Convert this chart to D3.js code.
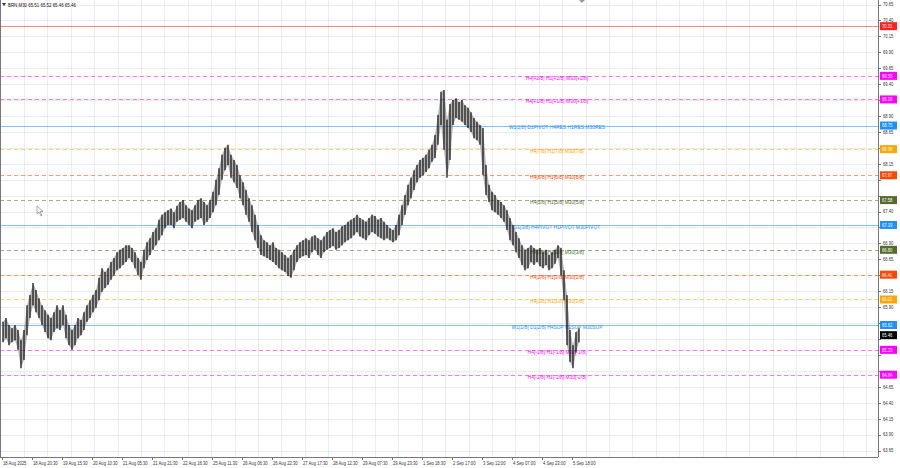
<!DOCTYPE html>
<html><head><meta charset="utf-8">
<script src="https://cdn.jsdelivr.net/npm/d3@7"></script>
<style>body{margin:0;background:#fff}svg{display:block}text{font-family:"Liberation Sans",Arial,sans-serif}</style>
</head><body><svg id="c" width="900" height="468"></svg>
<script>
const symbolTitle = "BRN,M30  65.51 65.52 65.46 65.46";
const highs = [65.67,65.73,65.62,65.57,65.62,65.54,65.38,65.54,65.93,66.09,66.28,66.17,66.04,65.93,65.85,65.78,65.73,65.82,65.93,65.85,65.93,65.78,65.62,65.54,65.62,65.73,65.70,65.82,65.93,66.01,66.09,66.17,66.36,66.51,66.45,66.51,66.61,66.67,66.76,66.80,66.83,66.87,66.87,66.83,66.76,66.67,66.61,66.80,66.92,66.98,67.08,67.14,67.27,67.35,67.39,67.42,67.45,67.39,67.49,67.55,67.58,67.50,67.45,67.42,67.50,67.58,67.61,67.55,67.50,67.58,67.71,67.90,68.08,68.29,68.40,68.45,68.29,68.21,68.13,67.97,67.86,67.74,67.61,67.50,67.35,67.19,67.03,66.95,66.92,66.87,66.92,66.83,66.80,66.76,66.72,66.67,66.72,66.80,66.87,66.92,66.95,66.98,66.95,67.01,67.03,66.98,66.95,67.01,67.08,67.11,67.14,67.08,67.11,67.17,67.19,67.24,67.27,67.30,67.35,67.30,67.27,67.24,67.30,67.35,67.33,67.27,67.30,67.24,67.19,67.14,67.11,67.19,67.35,67.50,67.66,67.82,67.93,68.05,68.13,68.21,68.24,68.29,68.37,68.45,68.60,68.92,69.28,69.31,68.84,69.09,69.15,69.18,69.12,69.15,69.07,69.03,68.96,68.87,68.81,68.76,68.71,68.13,67.82,67.71,67.66,67.58,67.55,67.50,67.42,67.30,67.19,67.08,66.98,66.87,66.80,66.83,66.87,66.83,66.80,66.83,66.76,66.80,66.72,66.76,66.80,66.87,66.83,66.48,66.09,65.54,65.30,65.51,65.57];
const lows = [65.35,65.41,65.30,65.35,65.38,65.23,64.94,65.07,65.46,65.73,65.93,65.82,65.73,65.62,65.51,65.41,65.38,65.51,65.57,65.54,65.62,65.41,65.30,65.23,65.30,65.41,65.46,65.54,65.67,65.73,65.82,65.89,66.01,66.14,66.20,66.25,66.33,66.40,66.48,66.51,66.56,66.61,66.67,66.61,66.51,66.40,66.33,66.51,66.64,66.72,66.80,66.87,66.95,67.03,67.14,67.19,67.19,67.14,67.24,67.27,67.30,67.24,67.19,67.14,67.24,67.27,67.30,67.19,67.24,67.30,67.39,67.50,67.66,67.90,68.05,68.13,67.93,67.86,67.77,67.61,67.50,67.35,67.24,67.08,66.95,66.83,66.72,66.70,66.67,66.64,66.61,66.56,66.51,66.48,66.45,66.39,66.36,66.48,66.61,66.67,66.70,66.72,66.67,66.76,66.80,66.72,66.67,66.76,66.80,66.83,66.86,66.80,66.83,66.87,66.92,66.95,66.98,67.03,67.08,67.01,66.98,66.95,67.03,67.08,67.05,67.01,66.98,66.95,66.98,66.95,66.92,66.95,67.03,67.19,67.35,67.50,67.61,67.74,67.86,67.93,67.97,68.02,68.08,68.18,68.24,68.45,68.76,68.37,67.93,68.21,68.76,68.87,68.84,68.81,68.76,68.71,68.65,68.55,68.52,68.45,67.97,67.66,67.55,67.42,67.39,67.35,67.30,67.24,67.11,66.95,66.87,66.76,66.67,66.56,66.48,66.51,66.61,66.56,66.61,66.54,66.51,66.56,66.48,66.51,66.58,66.67,66.40,66.01,65.30,65.04,64.94,65.19,65.35];
const priceTicks = [63.65,63.90,64.15,64.40,64.65,64.90,65.15,65.40,65.65,65.90,66.15,66.40,66.65,66.90,67.15,67.40,67.65,67.90,68.15,68.40,68.65,68.90,69.15,69.40,69.65,69.90,70.15,70.40,70.65];
const timeLabels = ["18 Aug 2025","18 Aug 20:30","19 Aug 15:30","20 Aug 10:30","21 Aug 05:30","21 Aug 21:30","22 Aug 16:30","25 Aug 11:30","26 Aug 06:30","26 Aug 22:30","27 Aug 17:30","28 Aug 12:30","29 Aug 07:30","29 Aug 23:30","1 Sep 18:30","2 Sep 17:00","3 Sep 12:00","4 Sep 07:00","4 Sep 23:00","5 Sep 18:00"];
const levelPrices = [70.31,69.53,69.16,68.75,68.38,67.97,67.58,67.19,66.80,66.41,66.02,65.62,65.23,64.84];
const levelLabels = ["","H4[+2/8] H1[+2/8] M30[+2/8]","H4[+1/8] H1[+1/8] M30[+1/8]","W1[2/8] D1PIVOT H4RES H1RES M30RES","H4[7/8] H1[7/8] M30[7/8]","H4[6/8] H1[6/8] M30[6/8]","H4[5/8] H1[5/8] M30[5/8]","D1[3/8] H4PIVOT H1PIVOT M30PIVOT","H4[3/8] H1[3/8] M30[3/8]","H4[2/8] H1[2/8] M30[2/8]","H4[1/8] H1[1/8] M30[1/8]","W1[1/8] D1[2/8] H4SUP H1SUP M30SUP","H4[-1/8] H1[-1/8] M30[-1/8]","H4[-2/8] H1[-2/8] M30[-2/8]"];
const lastPrice = 65.46;

// styles
const levelColor = ["#ff2020","#ff00ff","#ff00ff","#1e90ff","#ffa500","#ff4500","#556b2f","#1e90ff","#556b2f","#ff4500","#ffa500","#1e90ff","#ff00ff","#ff00ff"];
const levelDash = ["","4,3","4,3","","4,3","4,3","4,3","","4,3","4,3","4,3","","4,3","4,3"];

const svg = d3.select("#c");
const plotR = 878, plotB = 457;
const y = d3.scaleLinear().domain([63.65,70.65]).range([450.5,4.5]);
const x = d3.scaleLinear().domain([0,highs.length-1]).range([3,579]);
const xl = d3.scalePoint().domain(timeLabels).range([2,572]);

function sx(sel,k){ // horizontally condensed text
  sel.each(function(){const t=d3.select(this);const X=+t.attr("x"),Y=+t.attr("y");
    t.attr("transform",`translate(${X},${Y}) scale(${k},1) translate(${-X},${-Y})`);});
  return sel;
}

// grid
const g = svg.append("g");
g.selectAll("line.hg").data(priceTicks).join("line")
 .attr("x1",0).attr("x2",plotR).attr("y1",d=>Math.round(y(d))+0.5).attr("y2",d=>Math.round(y(d))+0.5)
 .attr("stroke","#ececec").attr("stroke-width",1);
g.selectAll("line.vg").data(d3.range(24,plotR,23.4)).join("line")
 .attr("x1",d=>Math.round(d)+0.5).attr("x2",d=>Math.round(d)+0.5).attr("y1",0).attr("y2",plotB)
 .attr("stroke","#ececec").attr("stroke-width",1);

// levels
const lv = svg.append("g");
levelPrices.forEach((p,i)=>{
  lv.append("line").attr("x1",0).attr("x2",plotR)
    .attr("y1",Math.round(y(p))+0.5).attr("y2",Math.round(y(p))+0.5)
    .attr("stroke",levelColor[i]).attr("stroke-opacity",0.55).attr("stroke-width",1)
    .attr("stroke-dasharray",levelDash[i]||null);
});

// bars: ribbon + thin range lines
const area = d3.area().x((d,i)=>x(i)).y0((d,i)=>y(lows[i])).y1(d=>y(d));
svg.append("path").datum(highs).attr("d",area).attr("fill","#555").attr("fill-opacity",0.45);
svg.append("g").selectAll("line").data(highs).join("line")
 .attr("x1",(d,i)=>x(i)).attr("x2",(d,i)=>x(i))
 .attr("y1",d=>y(d)).attr("y2",(d,i)=>y(lows[i]))
 .attr("stroke","#111").attr("stroke-width",1.2);

// level labels
levelPrices.forEach((p,i)=>{
  if(levelLabels[i]) sx(lv.append("text").attr("x",557).attr("y",y(p)+2).attr("dy","0.35em")
    .attr("text-anchor","middle").attr("font-size",5.5).attr("fill",levelColor[i]).text(levelLabels[i]),0.9);
});

// frame
svg.append("line").attr("x1",plotR+0.5).attr("x2",plotR+0.5).attr("y1",0).attr("y2",plotB).attr("stroke","#777");
svg.append("line").attr("x1",0).attr("x2",plotR).attr("y1",plotB+0.5).attr("y2",plotB+0.5).attr("stroke","#777");
svg.append("line").attr("x1",0.5).attr("x2",0.5).attr("y1",0).attr("y2",plotB).attr("stroke","#777");

// price axis
const boxes = levelPrices.concat([lastPrice]);
const visTicks = priceTicks.filter(t=>boxes.every(b=>Math.abs(b-t)>0.085));
const ax = svg.append("g");
sx(ax.selectAll("text").data(visTicks).join("text")
 .attr("x",883).attr("y",d=>y(d)).attr("dy","0.35em").attr("font-size",5.5).attr("fill","#333")
 .text(d=>d.toFixed(2)),0.75);
ax.selectAll("line").data(priceTicks).join("line")
 .attr("x1",plotR).attr("x2",plotR+3).attr("y1",d=>Math.round(y(d))+0.5).attr("y2",d=>Math.round(y(d))+0.5).attr("stroke","#777");
boxes.forEach((p,i)=>{
  const c = i<levelPrices.length ? levelColor[i] : "#000";
  ax.append("rect").attr("x",880).attr("y",y(p)-4).attr("width",17).attr("height",8).attr("fill",c);
  sx(ax.append("text").attr("x",882).attr("y",y(p)).attr("dy","0.35em").attr("font-size",5.5).attr("fill","#fff").text(p.toFixed(2)),0.75);
});

// time axis
sx(svg.append("g").selectAll("text").data(timeLabels).join("text")
 .attr("x",d=>xl(d)+1).attr("y",465).attr("font-size",5.5).attr("fill","#333").text(d=>d),0.76);
svg.append("g").selectAll("line").data(timeLabels).join("line")
 .attr("x1",d=>Math.round(xl(d))+0.5).attr("x2",d=>Math.round(xl(d))+0.5).attr("y1",plotB).attr("y2",plotB+3).attr("stroke","#777");

// title
svg.append("path").attr("d","M2,3 L6,3 L4,6 Z").attr("fill","#333");
sx(svg.append("text").attr("x",8).attr("y",7).attr("font-size",5.5).attr("fill","#111").text(symbolTitle),0.8);
// shift marker
svg.append("path").attr("d","M579,0 L585,0 L582,3 Z").attr("fill","#999");
// mouse cursor
svg.append("path").attr("d","M37,206 L37,214 L39,212 L41,216 L42,215.5 L40,211.5 L43,211.5 Z")
 .attr("fill","#fff").attr("stroke","#777").attr("stroke-width",0.6);
</script></body></html>
